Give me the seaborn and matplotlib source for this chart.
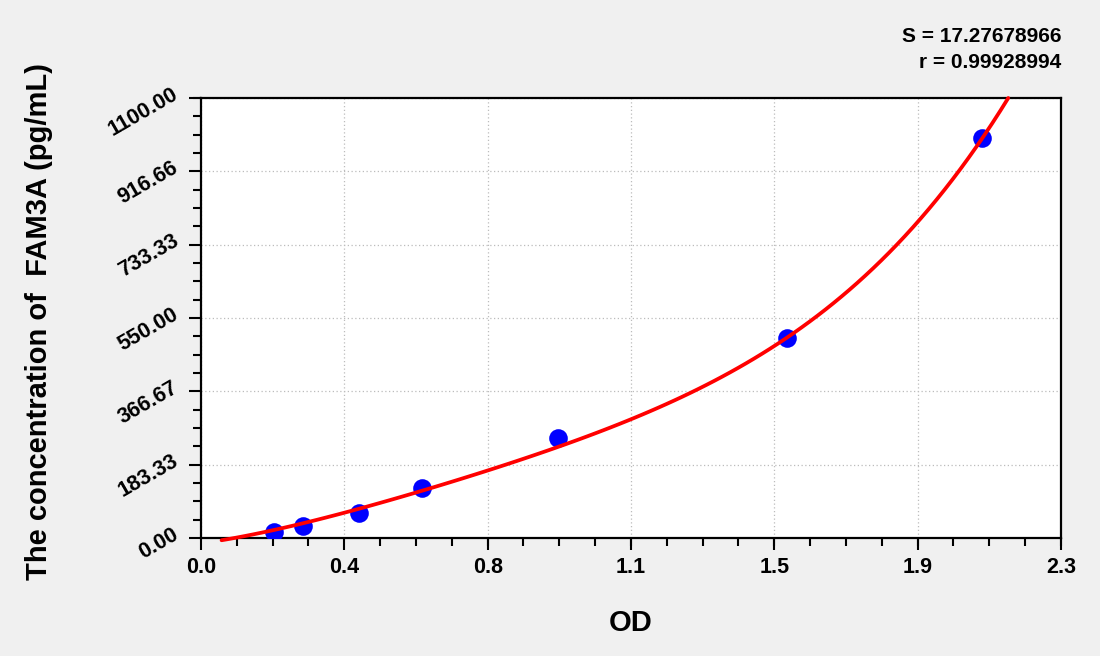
import numpy as np
import pandas as pd
import seaborn as sns
import matplotlib
matplotlib.use("Agg")
import matplotlib.pyplot as plt
from matplotlib.ticker import AutoMinorLocator

# standard curve points (OD vs concentration)
od = [0.195, 0.273, 0.423, 0.590, 0.956, 1.566, 2.088]
conc = [15.625, 31.25, 62.5, 125, 250, 500, 1000]

# fitted curve at several OD values
curve_od = [0.055, 0.096, 0.198, 0.381, 0.577, 0.764, 0.929, 1.147, 1.290,
            1.531, 1.731, 1.914, 2.039, 2.159]
curve_conc = [-5, -1, 20, 70, 109, 166, 220, 295, 357, 478, 620, 787, 928, 1103]

x_ticks = [0.0, 0.3833, 0.7667, 1.15, 1.5333, 1.9167, 2.3]
x_labels = ["0.0", "0.4", "0.8", "1.1", "1.5", "1.9", "2.3"]
y_ticks = [0.0, 183.33, 366.67, 550.0, 733.33, 916.66, 1100.0]
y_labels = ["0.00", "183.33", "366.67", "550.00", "733.33", "916.66", "1100.00"]

s_text = "S = 17.27678966"
r_text = "r = 0.99928994"

pts = pd.DataFrame({"OD": od, "conc": conc})
fit = pd.DataFrame({"OD": curve_od, "conc": curve_conc})

sns.set_style("ticks")
plt.rcParams['font.family'] = ['Liberation Sans', 'DejaVu Sans']
plt.rcParams['font.weight'] = 'bold'
plt.rcParams['text.color'] = 'black'
plt.rcParams['axes.labelcolor'] = 'black'
plt.rcParams['xtick.color'] = 'black'
plt.rcParams['ytick.color'] = 'black'

fig = plt.figure(figsize=(11, 6.56), dpi=100, facecolor='#f0f0f0')
ax = fig.add_axes([201/1100, 118/656, 860/1100, 440/656])
ax.set_facecolor('white')

ax.set_xlim(0, 2.3)
ax.set_ylim(0, 1100)

ax.grid(True, which='major', color='#bcbcbc', linestyle=(0, (1, 2)), linewidth=0.9)
ax.set_axisbelow(True)

sns.scatterplot(data=pts, x="OD", y="conc", ax=ax, color='#0000ff', s=180,
                linewidth=0, zorder=3, legend=False)
# smooth polynomial through the curve readings
sns.regplot(data=fit, x="OD", y="conc", ax=ax, order=4, ci=None, scatter=False,
            line_kws=dict(color='#ff0000', linewidth=2.7, zorder=4, clip_on=False))

ax.set_xlim(0, 2.3)
ax.set_ylim(0, 1100)
ax.set_xticks(x_ticks)
ax.set_xticklabels(x_labels)
ax.set_yticks(y_ticks)
ax.set_yticklabels(y_labels)
ax.xaxis.set_minor_locator(AutoMinorLocator(4))
ax.yaxis.set_minor_locator(AutoMinorLocator(4))

ax.tick_params(which='major', direction='out', length=8.5, width=1.5, color='black')
ax.tick_params(which='minor', direction='out', length=5.8, width=1.5, color='black')
ax.tick_params(axis='x', labelsize=15.5, pad=5)
ax.tick_params(axis='y', labelsize=15.5, pad=7)
for lab in ax.get_yticklabels():
    lab.set_rotation(30)
    lab.set_rotation_mode('anchor')
    lab.set_ha('right')
    lab.set_va('baseline')
    lab.set_fontweight('bold')
for lab in ax.get_xticklabels():
    lab.set_fontweight('bold')

for sp in ax.spines.values():
    sp.set_visible(True)
    sp.set_color('black')
    sp.set_linewidth(1.6)

ax.set_xlabel("OD", fontsize=21, fontweight='bold')
ax.xaxis.label.set_va('center')
ax.xaxis.set_label_coords(0.499, -0.193)
ax.set_ylabel("The concentration of  FAM3A (pg/mL)", fontsize=21, fontweight='bold')
ax.yaxis.label.set_va('center')
ax.yaxis.label.set_rotation_mode('default')
ax.yaxis.set_label_coords(-0.1884, 0.493)

fig.text(1061/1100, 1 - 36/656, s_text, ha='right', va='center', fontsize=15, fontweight='bold')
fig.text(1061/1100, 1 - 63/656, r_text, ha='right', va='center', fontsize=15, fontweight='bold')

fig.savefig("out.png", dpi=100, facecolor=fig.get_facecolor())
